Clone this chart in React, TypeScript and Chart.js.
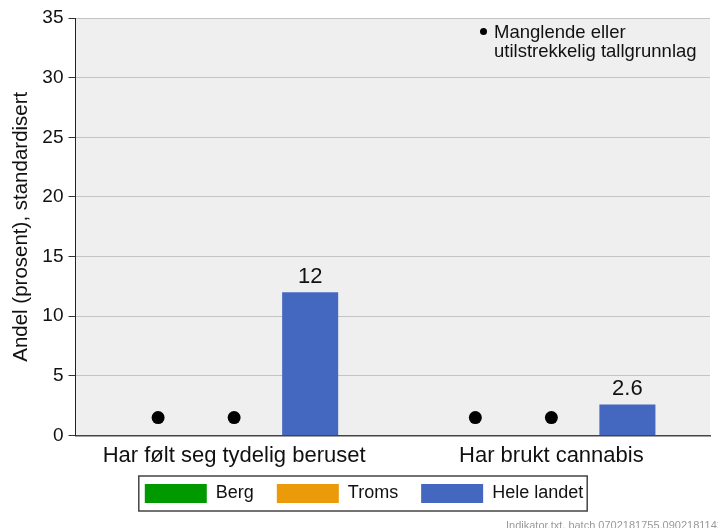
import React, { useEffect, useRef } from 'react';
import { Chart, registerables } from 'chart.js';

Chart.register(...registerables);

// ---- Data ----
const categories = ['Har følt seg tydelig beruset', 'Har brukt cannabis'];
const seriesNames = ['Berg', 'Troms', 'Hele landet'];
const bergValues: (number | null)[] = [null, null];
const tromsValues: (number | null)[] = [null, null];
const heleLandetValues: (number | null)[] = [12, 2.6];
const bergMissing = [true, true];
const tromsMissing = [true, true];
const missingMarkerValue = 1.5;
const yTicks = [0, 5, 10, 15, 20, 25, 30, 35];
const yAxisTitle = 'Andel (prosent), standardisert';
const noteLines = ['Manglende eller', 'utilstrekkelig tallgrunnlag'];
const footnote = 'Indikator.txt, batch 0702181755,0902181142,';

// ---- Styles ----
const seriesColors = ['#009a00', '#eb9a0a', '#4467bf'];
const FONT = '"Liberation Sans", Arial, sans-serif';
const TEXT = '#111111';
const LEGEND_PAD = 23;
const LEGEND_SHIFT_X = 9;
const LEGEND_SHIFT_Y = -14.5;

export default function App() {
  const ref = useRef<HTMLCanvasElement | null>(null);

  useEffect(() => {
    const canvas = ref.current;
    if (!canvas) return;
    Chart.defaults.font.family = FONT;

    const missingFlags = [bergMissing, tromsMissing];

    const bgPlugin = {
      id: 'bg',
      beforeDraw(chart: any) {
        const { ctx, chartArea } = chart;
        ctx.save();
        ctx.fillStyle = '#ffffff';
        ctx.fillRect(0, 0, chart.width, chart.height);
        ctx.fillStyle = '#efefef';
        ctx.fillRect(chartArea.left, chartArea.top, chartArea.right - chartArea.left, chartArea.bottom - chartArea.top);
        ctx.restore();
      },
    };

    const legendShiftPlugin = {
      id: 'legendShift',
      afterLayout(chart: any) {
        const lg = chart.legend;
        if (!lg) return;
        lg.left += LEGEND_SHIFT_X;
        lg.right += LEGEND_SHIFT_X;
        lg.top += LEGEND_SHIFT_Y;
        lg.bottom += LEGEND_SHIFT_Y;
      },
    };

    const overlayPlugin = {
      id: 'overlay',
      afterDatasetsDraw(chart: any) {
        const { ctx, chartArea } = chart;
        const y = chart.scales.y;
        ctx.save();
        // missing-data dots
        missingFlags.forEach((flags, di) => {
          const meta = chart.getDatasetMeta(di);
          flags.forEach((m, i) => {
            if (!m) return;
            const el = meta.data[i];
            if (!el) return;
            ctx.beginPath();
            ctx.arc(el.x, y.getPixelForValue(missingMarkerValue), 6.5, 0, Math.PI * 2);
            ctx.fillStyle = '#000';
            ctx.fill();
          });
        });
        // value labels
        const metaH = chart.getDatasetMeta(2);
        ctx.font = `22px ${FONT}`;
        ctx.fillStyle = TEXT;
        ctx.textAlign = 'center';
        ctx.textBaseline = 'alphabetic';
        heleLandetValues.forEach((v, i) => {
          if (v == null) return;
          const el = metaH.data[i];
          ctx.fillText(String(v), el.x, el.y - 9);
        });
        // note in top right
        const nx = chartArea.right - 216;
        const ny = chartArea.top + 20;
        ctx.beginPath();
        ctx.arc(nx - 10.5, ny - 6.5, 3.5, 0, Math.PI * 2);
        ctx.fillStyle = '#000';
        ctx.fill();
        ctx.font = `18.5px ${FONT}`;
        ctx.fillStyle = TEXT;
        ctx.textAlign = 'left';
        noteLines.forEach((line, i) => ctx.fillText(line, nx, ny + i * 18.5));
        ctx.restore();
      },
      afterDraw(chart: any) {
        const { ctx } = chart;
        const lg = chart.legend;
        ctx.save();
        if (lg && lg.legendHitBoxes && lg.legendHitBoxes.length) {
          const hb = lg.legendHitBoxes;
          const first = hb[0];
          const last = hb[hb.length - 1];
          const x0 = first.left - 6;
          const y0 = first.top - 8;
          const x1 = last.left + last.width + 4;
          const y1 = first.top + first.height + 8;
          ctx.strokeStyle = '#444';
          ctx.lineWidth = 1.5;
          ctx.strokeRect(x0, y0, x1 - x0, y1 - y0);
        }
        ctx.font = `11px ${FONT}`;
        ctx.fillStyle = '#999';
        ctx.textAlign = 'right';
        ctx.textBaseline = 'alphabetic';
        ctx.fillText(footnote, chart.width + 8, chart.height + 0.5);
        ctx.restore();
      },
    };

    const chart = new Chart(canvas, {
      type: 'bar',
      data: {
        labels: categories,
        datasets: [
          { label: seriesNames[0], data: bergValues, backgroundColor: seriesColors[0], borderWidth: 0 },
          { label: seriesNames[1], data: tromsValues, backgroundColor: seriesColors[1], borderWidth: 0 },
          { label: seriesNames[2], data: heleLandetValues, backgroundColor: seriesColors[2], borderWidth: 0 },
        ],
      },
      options: {
        animation: false,
        responsive: false,
        devicePixelRatio: 1,
        categoryPercentage: 0.719,
        barPercentage: 0.737,
        layout: { padding: { left: 0, right: 8, top: 18, bottom: 0.5 } },
        plugins: {
          legend: {
            position: 'bottom',
            labels: {
              boxWidth: 62,
              boxHeight: 19,
              padding: LEGEND_PAD,
              color: TEXT,
              font: { size: 18, family: FONT },
            },
          },
          tooltip: { enabled: false },
        },
        scales: {
          x: {
            offset: true,
            grid: { display: false, drawTicks: false },
            border: { display: true, color: '#444', width: 1.5 },
            ticks: { color: TEXT, font: { size: 22, family: FONT }, padding: 7, maxRotation: 0, autoSkip: false },
            afterFit: (s: any) => {
              s.height = 40;
            },
          },
          y: {
            min: 0,
            max: 35,
            afterBuildTicks: (s: any) => {
              s.ticks = yTicks.map((v) => ({ value: v }));
            },
            ticks: { color: TEXT, font: { size: 19, family: FONT }, padding: 5 },
            grid: { color: '#c4c4c4', lineWidth: 1, tickColor: '#333', tickLength: 7, drawTicks: true },
            border: { display: true, color: '#222', width: 1 },
            title: {
              display: true,
              text: yAxisTitle,
              color: TEXT,
              font: { size: 20.5, family: FONT },
              padding: { top: 9.5, bottom: 0 },
            },
            afterFit: (s: any) => {
              s.width = 75.5;
            },
          },
        },
      } as any,
      plugins: [bgPlugin, legendShiftPlugin, overlayPlugin],
    });

    return () => chart.destroy();
  }, []);

  return (
    <>
      <style>{`body{margin:0}`}</style>
      <canvas ref={ref} width={718} height={528} style={{ display: 'block', width: 718, height: 528 }} />
    </>
  );
}
